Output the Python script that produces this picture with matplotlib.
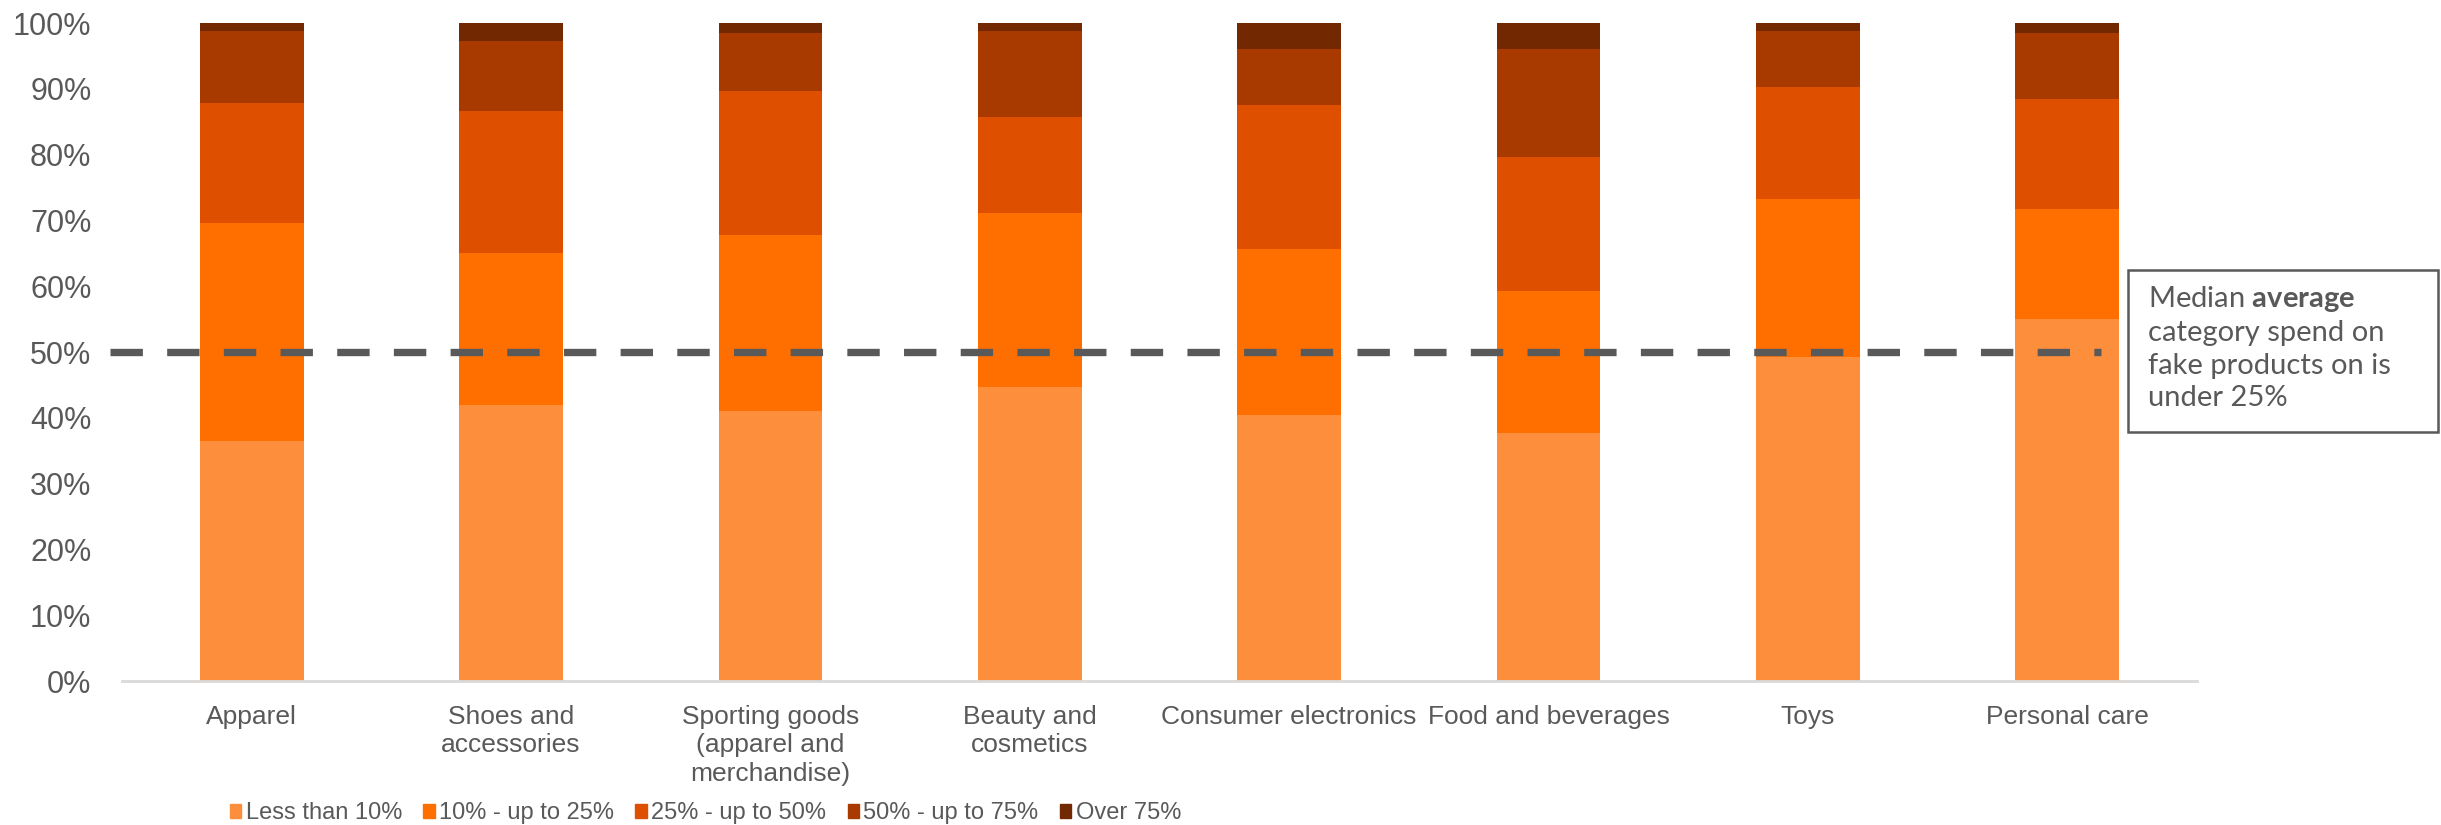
import numpy as np
import matplotlib
matplotlib.use("Agg")
import matplotlib.pyplot as plt
from matplotlib.patches import Rectangle

plt.rcParams['font.family'] = ['Liberation Sans', 'DejaVu Sans']
plt.rcParams['mathtext.fontset'] = 'custom'
plt.rcParams['mathtext.rm'] = 'Lato'
plt.rcParams['mathtext.bf'] = 'Lato:bold'

categories = ["Apparel", "Shoes and\naccessories", "Sporting goods\n(apparel and\nmerchandise)",
              "Beauty and\ncosmetics", "Consumer electronics", "Food and beverages",
              "Toys", "Personal care"]
series_names = ["Less than 10%", "10% - up to 25%", "25% - up to 50%", "50% - up to 75%", "Over 75%"]

# share of respondents (%) per spend band
less_10 = [36.5, 41.9, 41.0, 44.7, 40.4, 37.7, 49.2, 55.0]
from_10_25 = [33.1, 23.2, 26.8, 26.4, 25.3, 21.6, 24.1, 16.7]
from_25_50 = [18.2, 21.5, 21.9, 14.6, 21.8, 20.3, 17.0, 16.7]
from_50_75 = [11.0, 10.7, 8.8, 13.1, 8.5, 16.4, 8.5, 10.1]
over_75 = [1.2, 2.7, 1.5, 1.2, 4.0, 4.0, 1.2, 1.5]
median_line = 50

colors = ["#FD8F3C", "#FF6F00", "#DE4F00", "#A83A00", "#722800"]
grey = "#595959"

fig = plt.figure(figsize=(24.41, 8.25), dpi=100)
ax = fig.add_axes([0.05, 0.1745, 0.85, 0.7976])

x = np.arange(len(categories))
bottom = np.zeros(len(categories))
for vals, name, c in zip([less_10, from_10_25, from_25_50, from_50_75, over_75], series_names, colors):
    ax.bar(x, vals, 0.4, bottom=bottom, color=c, label=name, zorder=2)
    bottom += np.array(vals)

ax.axhline(median_line, xmin=-0.006, xmax=0.954, color=grey, lw=5.3,
           dashes=(4.4, 3.3), clip_on=False, zorder=3)

ax.set_xlim(-0.5, len(categories) - 0.5)
ax.set_ylim(0, 100)
ax.set_yticks(np.arange(0, 101, 10))
ax.set_yticklabels([f"{v}%" for v in range(0, 101, 10)])
ax.set_xticks(x)
ax.set_xticklabels(categories, linespacing=1.25)
ax.tick_params(axis='y', length=0, pad=22, labelsize=22, labelcolor=grey)
ax.tick_params(axis='x', length=0, pad=17, labelsize=19, labelcolor=grey)
for s in ['top', 'right', 'left']:
    ax.spines[s].set_visible(False)
ax.spines['bottom'].set_color("#D9D9D9")
ax.spines['bottom'].set_linewidth(2)

handles = [Rectangle((0, 0), 1, 1, color=c) for c in colors]
fig.legend(handles, series_names, loc='center', bbox_to_anchor=(0.289, 0.0145), ncol=5,
           frameon=False, fontsize=17, labelcolor=grey, handlelength=0.47, handleheight=0.55,
           handletextpad=0.2, columnspacing=0.9)

# annotation box
W, H = 2441, 825
fig.patches.append(Rectangle((2128 / W, 1 - 432 / H), (2438 - 2128) / W, (432 - 270) / H,
                             transform=fig.transFigure, fill=False, edgecolor=grey, lw=1.8))
fig.text(2148 / W, 1 - 284 / H,
         "Median $\\mathbf{average}$\ncategory spend on\nfake products on is\nunder 25%",
         fontsize=21, family='Lato', color=grey, va='top', ha='left', linespacing=1.3)

fig.savefig("out.png", dpi=100)
